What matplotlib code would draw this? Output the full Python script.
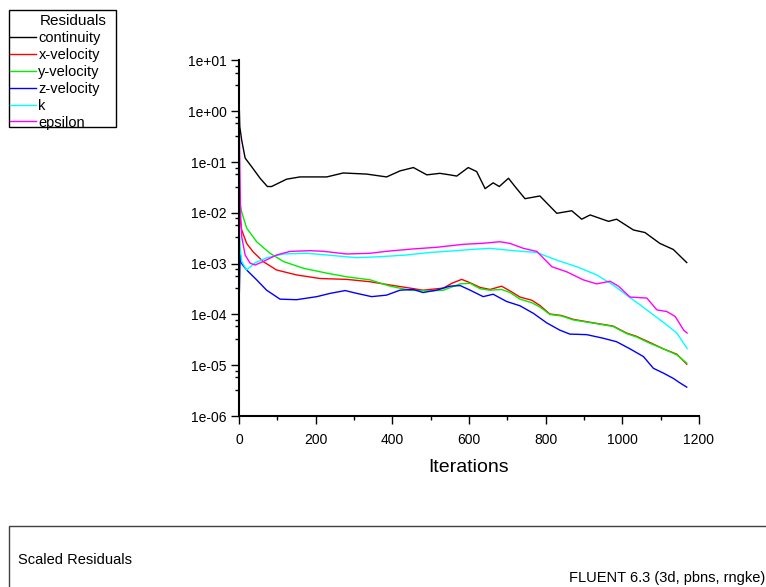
import matplotlib
matplotlib.use("Agg")
import matplotlib.pyplot as plt
from matplotlib.patches import Rectangle
from matplotlib.ticker import MultipleLocator, LogLocator, FuncFormatter, NullFormatter

plt.rcParams['font.family'] = ['Liberation Sans', 'DejaVu Sans']

# residual histories (iteration, scaled residual)
cont_it = [1, 2, 7, 16, 33, 55, 74, 85, 124, 159, 229, 272, 333, 385, 420, 455, 490, 524,
           550, 568, 598, 620, 642, 663, 679, 703, 720, 746, 785, 829, 868, 894, 916, 964,
           985, 1029, 1059, 1098, 1133, 1168]
cont = [1.0, 0.5, 0.27, 0.12, 0.081, 0.048, 0.033, 0.033, 0.046, 0.051, 0.051, 0.061, 0.058,
        0.051, 0.067, 0.078, 0.056, 0.060, 0.056, 0.053, 0.078, 0.065, 0.030, 0.039, 0.033,
        0.048, 0.033, 0.019, 0.0215, 0.0098, 0.011, 0.0075, 0.0091, 0.0068, 0.0075, 0.0046,
        0.0041, 0.0025, 0.0019, 0.00105]

xv_it = [1, 3, 7, 20, 37, 63, 98, 150, 211, 281, 342, 394, 446, 480, 533, 555, 581, 603, 629,
         655, 685, 707, 733, 764, 785, 811, 842, 872, 916, 976, 1011, 1037, 1072, 1107, 1142, 1168]
xv = [0.018, 0.0075, 0.0046, 0.0025, 0.0017, 0.0011, 0.00075, 0.0006, 0.00051, 0.00049,
      0.00044, 0.00038, 0.00033, 0.0003, 0.00033, 0.00041, 0.00049, 0.00042, 0.00034, 0.00031,
      0.00036, 0.00029, 0.00022, 0.00019, 0.00015, 0.000102, 0.000095, 0.00008, 0.00007,
      0.000059, 0.000043, 0.000037, 0.000028, 0.000021, 0.0000165, 0.0000105]

yv_it = [1, 3, 7, 20, 46, 81, 116, 168, 229, 281, 342, 394, 446, 498, 533, 577, 603, 629, 655,
         685, 707, 733, 764, 785, 811, 842, 872, 916, 976, 1011, 1037, 1072, 1107, 1142, 1168]
yv = [0.02, 0.015, 0.0104, 0.005, 0.0027, 0.0016, 0.0011, 0.00081, 0.00065, 0.00055, 0.00048,
      0.00036, 0.0003, 0.00029, 0.0003, 0.0004, 0.00041, 0.00032, 0.0003, 0.00031, 0.00027,
      0.0002, 0.00017, 0.00014, 0.0001, 0.000093, 0.000078, 0.000069, 0.000058, 0.000042,
      0.000036, 0.000027, 0.000021, 0.000016, 0.000011]

zv_it = [1, 3, 7, 20, 46, 72, 107, 150, 203, 238, 277, 307, 346, 385, 420, 455, 480, 515, 550,
         577, 603, 637, 663, 698, 733, 768, 803, 837, 863, 907, 950, 985, 1020, 1055, 1081,
         1107, 1133, 1150, 1168]
zv = [0.00028, 0.0015, 0.001, 0.00075, 0.00048, 0.0003, 0.0002, 0.000195, 0.000224, 0.00026,
      0.000295, 0.00026, 0.000224, 0.00024, 0.0003, 0.00031, 0.00027, 0.0003, 0.00036, 0.00037,
      0.0003, 0.000224, 0.00025, 0.00018, 0.000148, 0.000105, 0.000068, 0.000049, 0.000041,
      0.00004, 0.000034, 0.000029, 0.000021, 0.0000148, 0.0000087, 0.000007, 0.0000055,
      0.0000045, 0.0000037]

k_it = [1, 3, 7, 20, 42, 72, 116, 177, 229, 307, 368, 437, 498, 568, 603, 655, 716, 777, 829,
        881, 933, 976, 1011, 1046, 1081, 1116, 1142, 1169]
k = [0.005, 0.0021, 0.0011, 0.00075, 0.00104, 0.0013, 0.00155, 0.0016, 0.00148, 0.00131,
     0.00137, 0.00148, 0.00166, 0.0018, 0.0019, 0.002, 0.0018, 0.00166, 0.00117, 0.00087,
     0.0006, 0.00038, 0.00024, 0.000155, 0.000098, 0.000062, 0.000043, 0.0000213]

eps_it = [1, 2, 4, 7, 16, 29, 42, 63, 98, 133, 185, 220, 281, 342, 385, 455, 516, 585, 637,
          681, 707, 742, 777, 816, 855, 898, 933, 968, 990, 1020, 1064, 1090, 1116, 1138, 1160, 1169]
eps = [0.37, 0.1, 0.01, 0.0034, 0.00148, 0.00102, 0.00094, 0.0011, 0.00148, 0.00174, 0.0018,
       0.00175, 0.00155, 0.0016, 0.00175, 0.00195, 0.0021, 0.0024, 0.00252, 0.0027, 0.0025,
       0.002, 0.00174, 0.00087, 0.00069, 0.00048, 0.0004, 0.00045, 0.00036, 0.00022, 0.00021,
       0.000123, 0.000114, 0.000091, 0.000049, 0.000043]

series = [("continuity", cont_it, cont, "black"),
          ("x-velocity", xv_it, xv, "#ff0000"),
          ("y-velocity", yv_it, yv, "#00ee00"),
          ("z-velocity", zv_it, zv, "#0000ff"),
          ("k", k_it, k, "#00ffff"),
          ("epsilon", eps_it, eps, "#ff00ff")]

W, H = 766, 587
fig = plt.figure(figsize=(W / 100, H / 100), dpi=100)
ax = fig.add_axes([239 / W, (H - 416) / H, 460 / W, 355.5 / H])

handles = []
for name, it, vals, col in series:
    ln, = ax.plot(it, vals, color=col, lw=1.0, label=name)
    handles.append(ln)

ax.set_yscale("log")
ax.set_xlim(0, 1200)
ax.set_ylim(1e-6, 1e1)
ax.xaxis.set_major_locator(MultipleLocator(200))
ax.xaxis.set_minor_locator(MultipleLocator(100))
ax.yaxis.set_major_locator(LogLocator(base=10, numticks=20))
ax.yaxis.set_minor_locator(LogLocator(base=10, subs=(3.3, 5.8, 7.8), numticks=20))
ax.yaxis.set_major_formatter(FuncFormatter(lambda v, p: f"{v:.0e}"))
ax.yaxis.set_minor_formatter(NullFormatter())

for s in ["top", "right"]:
    ax.spines[s].set_visible(False)
for s in ["left", "bottom"]:
    ax.spines[s].set_linewidth(1.5)
ax.tick_params(which="major", direction="out", length=6, width=1, labelsize=10, pad=3)
ax.tick_params(which="minor", direction="out", length=3, width=1)
ax.tick_params(axis="x", pad=6)

ax.set_xlabel("Iterations", fontsize=14, va="center")
ax.xaxis.set_label_coords(0.5, -(468 - 416) / 355.5)

# legend panel
fig.patches.append(Rectangle((9 / W, 1 - 127 / H), 107 / W, 117 / H,
                             transform=fig.transFigure, fill=False,
                             edgecolor="black", lw=1.0))
fig.text(40 / W, 1 - 21 / H, "Residuals", fontsize=11, va="center", ha="left")
leg = fig.legend(handles=handles, loc="upper left",
                 bbox_to_anchor=(10 / W, 1 - 31 / H), bbox_transform=fig.transFigure,
                 fontsize=10.5, frameon=False, borderaxespad=0, borderpad=0,
                 handlelength=1.75, handletextpad=0.2, labelspacing=0.2)

# bottom info panel
fig.patches.append(Rectangle((9 / W, -0.05), 1.0, (H - 526) / H + 0.05,
                             transform=fig.transFigure, fill=False,
                             edgecolor="#404040", lw=1.0))
fig.text(18 / W, 1 - 560 / H, "Scaled Residuals", fontsize=10.5, va="center", ha="left")
fig.text(765 / W, 1 - 578 / H, "FLUENT 6.3 (3d, pbns, rngke)", fontsize=10.5,
         va="center", ha="right")

fig.savefig("out.png", dpi=100)
